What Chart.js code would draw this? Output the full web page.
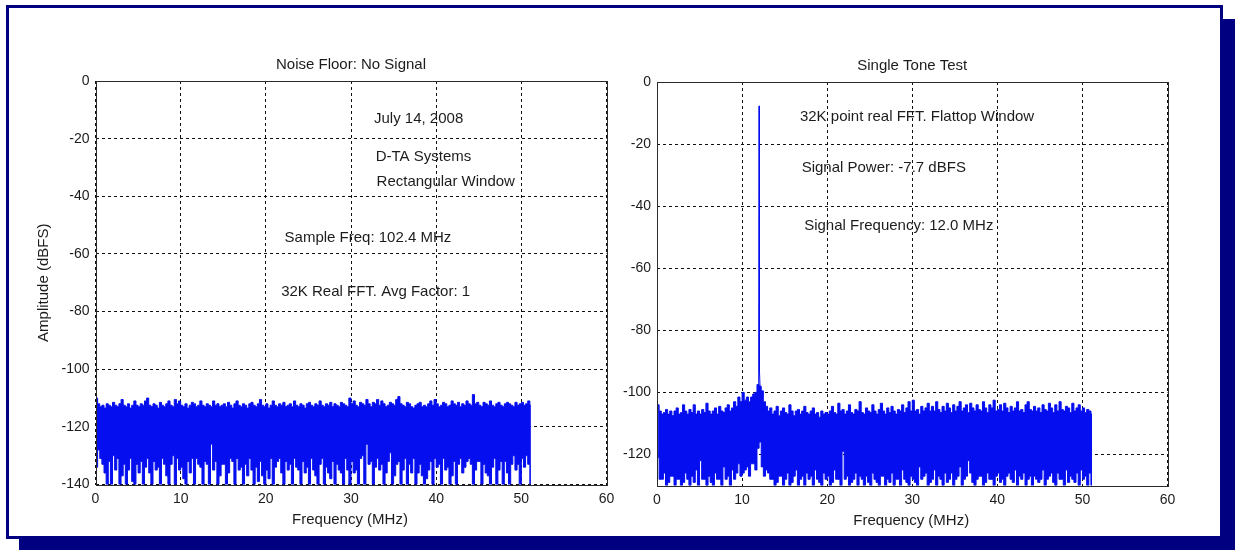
<!DOCTYPE html>
<html>
<head>
<meta charset="utf-8">
<script src="https://cdn.jsdelivr.net/npm/chart.js@4.4.1/dist/chart.umd.min.js"></script>
<style>
  html, body { margin:0; padding:0; background:#fff; width:1235px; height:550px; overflow:hidden; }
  #shadow { position:absolute; left:19px; top:19px; width:1216px; height:531px; background:#000080; }
  #frame { position:absolute; left:6px; top:5px; width:1211px; height:528px; border:3px solid #000080; background:#fff; }
  canvas { position:absolute; top:0; }
  #c1 { left:0; }
  #c2 { left:612px; }
</style>
</head>
<body>
<div id="shadow"></div>
<div id="frame"></div>
<canvas id="c1" width="625" height="550"></canvas>
<canvas id="c2" width="623" height="550"></canvas>
<script>
// ---------- data ----------
const binMHz = 0.25;                       // spectrum envelope bin width (MHz)
const freqTicks = [0, 10, 20, 30, 40, 50, 60];
const noiseTicks = [0, -20, -40, -60, -80, -100, -120, -140];
const toneTicks = [0, -20, -40, -60, -80, -100, -120];

// Noise floor panel: per-bin max / min (dBFS)
const noiseTop = [
 -110,-112,-113,-112.5,-113.5,-112,-112.5,-113,-111.5,-112.5,-113,-112,-110.5,-112.5,-113,-112,-113.5,-112.5,-111,-112.5,
 -113,-112,-112.5,-111,-110,-112.5,-113,-112,-112.5,-113.5,-111.5,-112.5,-113,-112,-111,-112.5,-113,-110.5,-112,-111,
 -112.5,-113,-112,-113.5,-112.5,-111.5,-112,-113,-112.5,-111,-112.5,-113,-112,-112.5,-113,-111,-112.5,-112,-113,-112.5,
 -112,-113,-111.5,-112.5,-113.5,-112,-111,-112.5,-113,-112,-112.5,-113.5,-112,-111.5,-112.5,-113,-112,-110.5,-112.5,-113,
 -112,-113.5,-112.5,-111,-112.5,-113,-112,-112.5,-111.5,-113,-112.5,-112,-113,-111,-112.5,-113,-112,-112.5,-113.5,-112,
 -111.5,-112.5,-113,-112,-112.5,-111,-112.5,-113,-112,-112.5,-111.5,-113,-112,-112.5,-113,-111.5,-112,-112.5,-113,-110,
 -112,-111,-112.5,-113,-111.5,-112,-112.5,-110.5,-112,-113,-111.5,-112,-110.5,-112.5,-111,-112,-113,-112.5,-111.5,-112,
 -112.5,-110.5,-109.5,-112,-112.5,-113,-111.5,-112,-113,-113.5,-112.5,-112,-111.5,-113,-112.5,-113,-112,-111,-112.5,-110.5,
 -112,-113,-112.5,-111.5,-112,-113,-112.5,-111,-112,-112.5,-111.5,-113,-112,-112.5,-111,-112,-112.5,-108.8,-112,-111.5,
 -112.5,-113,-111.5,-112,-112.5,-111,-112.5,-113,-112,-111.5,-112.5,-113,-112,-111.5,-112,-112.5,-113,-111.5,-112.5,-112,
 -111.5,-112.5,-112,-111,-112.5
];
const noiseBottom = [
 -134,-128,-131,-133,-136,-140,-132,-140,-130,-135,-131,-140,-137,-133,-140,-135,-131,-139,-140,-133,
 -136,-132,-140,-134,-131,-136,-140,-132,-135,-134,-140,-131,-133,-137,-140,-133,-130,-140,-131,-135,
 -134,-138,-140,-132,-136,-131,-140,-131,-133,-134,-140,-132,-133,-140,-126,-135,-132,-140,-137,-133,
 -133,-140,-136,-131,-132,-140,-131,-135,-134,-140,-133,-137,-131,-135,-140,-134,-139,-132,-137,-140,
 -135,-138,-131,-140,-134,-132,-131,-136,-140,-132,-135,-133,-140,-131,-134,-135,-140,-132,-136,-134,
 -140,-131,-135,-137,-140,-133,-131,-140,-134,-136,-138,-132,-140,-133,-135,-136,-140,-131,-135,-140,
 -132,-136,-135,-140,-131,-130,-140,-126,-133,-132,-140,-134,-131,-135,-133,-140,-136,-132,-129,-140,
 -137,-133,-132,-140,-135,-131,-140,-133,-136,-131,-140,-136,-133,-137,-140,-138,-135,-132,-140,-131,
 -134,-133,-140,-131,-135,-134,-140,-137,-132,-140,-133,-131,-136,-134,-132,-131,-133,-140,-135,-132,
 -132,-140,-133,-136,-137,-140,-134,-131,-140,-135,-132,-140,-132,-136,-140,-133,-130,-135,-133,-140,
 -131,-134,-130,-133,-140
];

// Single tone panel: per-bin max / min (dBFS)
const toneTop = [
 -104,-106,-107,-106.5,-105.5,-107,-106,-107.5,-106,-105,-107,-106.5,-104,-106,-107,-105.5,-106.5,-104,-107,-106,
 -107,-105.5,-106.5,-103.5,-106,-107,-106,-105,-107,-104.5,-106,-106.5,-105,-104,-106,-105,-103,-104.5,-101.5,-103,
 -100,-102.5,-101.5,-103,-101.5,-100.5,-100,-97.5,-98,-99.5,-103,-104.5,-106,-105,-107,-106,-104.5,-107.5,-106,-105,
 -106.5,-107,-104,-106,-107.5,-106,-105.5,-107,-106,-104.5,-106.5,-107,-106,-105,-107,-106.5,-108,-106,-107,-106.5,
 -107,-106,-104.5,-106.5,-107,-103.5,-106,-105.5,-107,-106,-104,-106.5,-107,-105.5,-106,-103,-106.5,-107,-105,-106,
 -106.5,-104,-106,-107,-105.5,-103.5,-106,-107,-105,-106.5,-104.5,-106,-107,-105.5,-106,-104,-106.5,-105,-103,-106,
 -102.5,-106,-105.5,-107,-104.5,-106,-105,-103.5,-106,-104.5,-106,-103,-105.5,-106.5,-104.5,-106,-103.5,-105,-106.5,-104,
 -106,-104.5,-103,-106,-105,-104,-106.5,-103.5,-105,-106,-104,-105.5,-106,-103,-105,-106.5,-104,-105,-102.5,-106,
 -105.5,-104,-106,-103.5,-105,-106.5,-104.5,-106,-105,-103,-106,-105.5,-106.5,-104,-103,-105.5,-106,-104.5,-106,-105,
 -106.5,-104,-105.5,-106,-103.5,-105,-106.5,-104,-106,-103,-105.5,-106,-104.5,-105,-106.5,-103.5,-106,-105,-104,-106,
 -105,-106.5,-105.5,-106,-107
];
const toneBottom = [
 -121,-128,-128,-126,-130,-129,-127,-127,-130,-128,-128,-130,-129,-126,-128,-130,-127,-129,-125,-130,
 -122,-128,-128,-130,-127,-129,-130,-126,-128,-128,-130,-124,-128,-127,-130,-125,-128,-126,-123,-127,
 -126,-125,-124,-127,-123,-123,-125,-118,-116,-124,-127,-125,-126,-128,-128,-130,-129,-127,-127,-130,
 -128,-126,-130,-129,-127,-125,-130,-128,-127,-130,-126,-128,-127,-130,-125,-128,-129,-130,-126,-128,
 -127,-130,-129,-125,-128,-128,-130,-119,-128,-127,-130,-129,-128,-126,-130,-127,-128,-130,-127,-129,
 -130,-126,-128,-129,-130,-127,-127,-130,-128,-129,-126,-130,-128,-128,-130,-125,-128,-129,-130,-127,
 -128,-129,-130,-124,-128,-127,-126,-130,-129,-128,-125,-130,-127,-128,-130,-126,-129,-128,-126,-130,
 -128,-127,-124,-130,-128,-127,-122,-126,-129,-130,-128,-127,-127,-130,-129,-126,-128,-128,-130,-127,
 -126,-129,-128,-130,-127,-126,-128,-129,-125,-130,-127,-128,-126,-130,-128,-127,-130,-127,-128,-129,
 -128,-125,-130,-128,-127,-126,-129,-130,-126,-128,-128,-130,-125,-129,-127,-128,-129,-126,-130,-125,
 -128,-127,-130,-126,-130
];

// Tone peak (fine resolution around 12.0 MHz)
const peakFreq = [11.88, 11.94, 11.97, 12.0, 12.03, 12.06, 12.12];
const peakLevel = [-98, -92, -86, -7.7, -88, -93, -99];

// ---------- rendering ----------
const FONT = '"Liberation Sans", Arial, Helvetica, sans-serif';
const BLUE = 'rgb(4,14,238)';
const INK = '#1c1c1c';

function toPoints(values) {
  return values.map((v, i) => ({ x: (i + 0.5) * binMHz, y: v }));
}
function bandDatasets(top, bottom) {
  return [
    { data: toPoints(top), stepped: 'middle', borderColor: BLUE, borderWidth: 1,
      backgroundColor: BLUE, fill: '+1', pointRadius: 0 },
    { data: toPoints(bottom), stepped: 'middle', borderColor: BLUE, borderWidth: 1,
      fill: false, pointRadius: 0 }
  ];
}

const textPlugin = {
  id: 'texts',
  afterDraw(chart, args, opts) {
    const ctx = chart.ctx, ca = chart.chartArea;
    ctx.save();
    ctx.strokeStyle = '#2a2a2a';
    ctx.lineWidth = 1;
    ctx.strokeRect(Math.round(ca.left) + 0.5, Math.round(ca.top) + 0.5,
                   Math.round(ca.right - ca.left), Math.round(ca.bottom - ca.top));
    ctx.fillStyle = INK;
    ctx.font = '15px ' + FONT;
    ctx.textBaseline = 'middle';
    const cx = (ca.left + ca.right) / 2;
    ctx.textAlign = 'center';
    ctx.fillText(opts.title, cx, ca.top - 16);
    ctx.fillText('Frequency (MHz)', cx - 1, ca.bottom + 35);
    if (opts.ylabel) {
      ctx.save();
      ctx.translate(opts.ylabelX, (ca.top + ca.bottom) / 2);
      ctx.rotate(-Math.PI / 2);
      ctx.fillText(opts.ylabel, 0, 0);
      ctx.restore();
    }
    ctx.textAlign = 'left';
    const xs = chart.scales.x, ys = chart.scales.y;
    for (const n of opts.notes) {
      ctx.fillText(n.text, xs.getPixelForValue(n.x), ys.getPixelForValue(n.y));
    }
    ctx.restore();
  }
};

function makeChart(id, cfg) {
  return new Chart(document.getElementById(id), {
    type: 'line',
    data: { datasets: cfg.datasets },
    options: {
      responsive: false,
      animation: false,
      events: [],
      layout: { padding: cfg.padding },
      plugins: {
        legend: { display: false },
        tooltip: { enabled: false },
        title: { display: false },
        texts: cfg.texts
      },
      scales: {
        x: {
          type: 'linear', min: 0, max: 60, offset: false,
          afterBuildTicks: s => { s.ticks = freqTicks.map(v => ({ value: v })); },
          afterFit: s => { s.height = cfg.xHeight; },
          ticks: { color: INK, font: { size: 14, family: FONT }, padding: 6, maxRotation: 0, autoSkip: false },
          grid: { color: '#111', lineWidth: 1, drawTicks: false },
          border: { display: false, dash: [3, 3] }
        },
        y: {
          type: 'linear', min: cfg.yMin, max: 0,
          afterBuildTicks: s => { s.ticks = cfg.yTicks.map(v => ({ value: v })); },
          afterFit: s => { s.width = cfg.yWidth; },
          ticks: { color: INK, font: { size: 14, family: FONT }, padding: 6, autoSkip: false },
          grid: { color: '#111', lineWidth: 1, drawTicks: false },
          border: { display: false, dash: [3, 3] }
        }
      }
    },
    plugins: [textPlugin]
  });
}

makeChart('c1', {
  padding: { top: 81, right: 18.5, bottom: 0, left: 0 },
  xHeight: 65.5, yWidth: 95.5, yMin: -140, yTicks: noiseTicks,
  datasets: bandDatasets(noiseTop, noiseBottom),
  texts: {
    title: 'Noise Floor: No Signal', ylabel: 'Amplitude (dBFS)', ylabelX: 44,
    notes: [
      { text: 'July 14, 2008', x: 32.7, y: -13.2 },
      { text: 'D-TA Systems', x: 32.9, y: -26.4 },
      { text: 'Rectangular Window', x: 33.0, y: -35.0 },
      { text: 'Sample Freq: 102.4 MHz', x: 22.2, y: -54.5 },
      { text: '32K Real FFT. Avg Factor: 1', x: 21.8, y: -73.2 }
    ]
  }
});

makeChart('c2', {
  padding: { top: 82, right: 67.5, bottom: 0, left: 0 },
  xHeight: 64.5, yWidth: 45, yMin: -130, yTicks: toneTicks,
  datasets: bandDatasets(toneTop, toneBottom).concat([
    { data: peakFreq.map((f, i) => ({ x: f, y: peakLevel[i] })),
      borderColor: BLUE, borderWidth: 1, pointRadius: 0, tension: 0, fill: false }
  ]),
  texts: {
    title: 'Single Tone Test', ylabel: null,
    notes: [
      { text: '32K point real FFT. Flattop Window', x: 16.8, y: -11.3 },
      { text: 'Signal Power: -7.7 dBFS', x: 17.0, y: -27.7 },
      { text: 'Signal Frequency: 12.0 MHz', x: 17.3, y: -46.5 }
    ]
  }
});
</script>
</body>
</html>
